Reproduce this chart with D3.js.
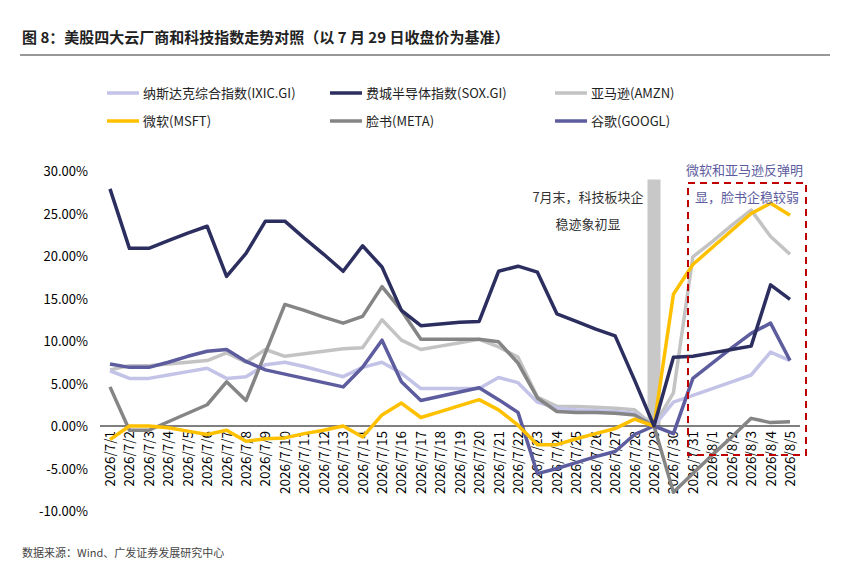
<!DOCTYPE html>
<head>
    <meta charset="utf-8">
    <title>美股四大云厂商和科技指数走势对照</title>
    <style>
        body { margin: 0; background: #fff; }
        text { font-family: "Noto Sans CJK SC", "Liberation Sans", sans-serif; }
    </style>
    <script src="https://d3js.org/d3.v7.min.js"></script>
</head>
<body>
    <script>
        var dates = ["2026/7/1","2026/7/2","2026/7/3","2026/7/4","2026/7/5","2026/7/6","2026/7/7","2026/7/8","2026/7/9","2026/7/10",
            "2026/7/11","2026/7/12","2026/7/13","2026/7/14","2026/7/15","2026/7/16","2026/7/17","2026/7/18","2026/7/19","2026/7/20",
            "2026/7/21","2026/7/22","2026/7/23","2026/7/24","2026/7/25","2026/7/26","2026/7/27","2026/7/28","2026/7/29","2026/7/30",
            "2026/7/31","2026/8/1","2026/8/2","2026/8/3","2026/8/4","2026/8/5"];

        var ixic = [6.5,5.6,5.6,6.0,6.4,6.8,5.6,5.8,7.2,7.5,7.0,6.4,5.8,6.9,7.5,6.2,4.4,4.4,4.4,4.4,5.7,5.1,2.8,2.1,1.9,1.8,1.7,1.5,0,2.8,3.6,4.4,5.2,6.0,8.7,7.7];
        var sox = [27.9,20.9,20.9,21.8,22.7,23.5,17.6,20.3,24.1,24.1,22.1,20.2,18.2,21.2,18.7,13.6,11.8,12.0,12.2,12.3,18.2,18.8,18.1,13.2,12.3,11.4,10.6,5.4,0,8.1,8.2,8.6,9.0,9.4,16.6,14.9];
        var amzn = [6.6,7.1,7.1,7.3,7.5,7.7,8.6,7.5,9.0,8.2,8.5,8.8,9.1,9.2,12.5,10.1,9.0,9.4,9.8,10.2,9.3,8.1,3.4,2.3,2.3,2.2,2.1,1.9,0,3.9,19.9,21.7,23.6,25.4,22.3,20.2];
        var msft = [-1.6,0,0,-0.2,-0.6,-1.0,-0.5,-1.8,-1.5,-1.4,-0.9,-0.5,0,-1.3,1.3,2.7,1.0,1.7,2.4,3.1,1.9,0.1,-2.2,-2.2,-1.5,-0.9,-0.3,0.8,0,15.5,19.0,21.0,23.0,25.0,26.2,24.8];
        var meta = [4.6,-0.5,-0.5,0.5,1.5,2.5,5.2,3.0,8.6,14.3,13.6,12.8,12.1,12.9,16.4,13.6,10.2,10.2,10.2,10.2,9.9,7.4,3.3,1.7,1.6,1.6,1.5,1.3,0,-7.8,-5.6,-3.4,-1.3,0.9,0.4,0.5];
        var googl = [7.3,6.9,6.9,7.5,8.2,8.8,9.0,7.6,6.6,6.1,5.6,5.1,4.6,6.9,10.1,5.2,3.0,3.5,4.0,4.5,3.1,1.6,-5.6,-5.0,-4.3,-3.6,-3.0,-1.0,0,-0.9,5.6,7.4,9.2,10.9,12.1,7.7];

        var series = [
            { name: "纳斯达克综合指数(IXIC.GI)", values: ixic, color: "#c3c3e8" },
            { name: "费城半导体指数(SOX.GI)", values: sox, color: "#2c2e5f" },
            { name: "亚马逊(AMZN)", values: amzn, color: "#c3c3c3" },
            { name: "微软(MSFT)", values: msft, color: "#ffc000" },
            { name: "脸书(META)", values: meta, color: "#858585" },
            { name: "谷歌(GOOGL)", values: googl, color: "#5c5c9e" }
        ];
        var yTicks = [-10, -5, 0, 5, 10, 15, 20, 25, 30];

        var width = 849, height = 574;
        var svg = d3.select("body").append("svg")
            .attr("width", width).attr("height", height);

        // title
        svg.append("text").attr("x", 22).attr("y", 43)
            .attr("font-size", 15).attr("font-weight", "bold").attr("fill", "#222")
            .text("图 8：美股四大云厂商和科技指数走势对照（以 7 月 29 日收盘价为基准）");
        svg.append("line").attr("x1", 20).attr("x2", 830).attr("y1", 55).attr("y2", 55)
            .attr("stroke", "#333").attr("stroke-width", 1);

        var x = d3.scalePoint().domain(dates).range([110, 790]);
        var y = d3.scaleLinear().domain([-10, 30]).range([511, 171]);

        // shaded bar at 7/29
        svg.append("rect")
            .attr("x", x("2026/7/29") - 6.5).attr("width", 13)
            .attr("y", y(29)).attr("height", y(0) - y(29))
            .attr("fill", "#c8c8c8");

        // y axis labels
        svg.append("g").selectAll("text").data(yTicks).enter().append("text")
            .attr("x", 88).attr("y", d => y(d) + 5)
            .attr("text-anchor", "end").attr("font-size", 13)
            .attr("font-family", "Liberation Sans, sans-serif").attr("fill", "#000")
            .text(d => d.toFixed(2) + "%");

        // zero line
        svg.append("line").attr("x1", 100).attr("x2", 800)
            .attr("y1", y(0)).attr("y2", y(0)).attr("stroke", "#000").attr("stroke-width", 1);

        // x labels
        svg.append("g").selectAll("text").data(dates).enter().append("text")
            .attr("transform", d => "translate(" + (x(d) + 5) + "," + (y(0) + 5) + ") rotate(-90)")
            .attr("text-anchor", "end").attr("font-size", 13.5)
            .attr("font-family", "Liberation Sans, sans-serif").attr("fill", "#000")
            .text(d => d);

        // lines
        var line = d3.line().x((d, i) => x(dates[i])).y(d => y(d));
        var order = [2, 0, 4, 5, 3, 1];
        order.forEach(function (k) {
            var s = series[k];
            svg.append("path").datum(s.values)
                .attr("d", line).attr("fill", "none")
                .attr("stroke", s.color).attr("stroke-width", 3.5)
                .attr("stroke-linejoin", "round");
        });

        // red dashed box
        svg.append("rect").attr("x", 688).attr("y", 183).attr("width", 118).attr("height", 272)
            .attr("fill", "none").attr("stroke", "#c00000").attr("stroke-width", 2)
            .attr("stroke-dasharray", "7,5");

        // annotations
        svg.append("text").attr("x", 588).attr("y", 202).attr("text-anchor", "middle")
            .attr("font-size", 13).attr("fill", "#333").text("7月末，科技板块企");
        svg.append("text").attr("x", 588).attr("y", 229).attr("text-anchor", "middle")
            .attr("font-size", 13).attr("fill", "#333").text("稳迹象初显");
        svg.append("text").attr("x", 686).attr("y", 175)
            .attr("font-size", 13).attr("fill", "#5c5c9e").text("微软和亚马逊反弹明");
        svg.append("text").attr("x", 695).attr("y", 202)
            .attr("font-size", 13).attr("fill", "#5c5c9e").text("显，脸书企稳较弱");

        // legend
        var legend = svg.append("g");
        series.forEach(function (s, i) {
            var lx = [107, 330, 555][i % 3], ly = i < 3 ? 93 : 121;
            legend.append("line").attr("x1", lx).attr("x2", lx + 32)
                .attr("y1", ly).attr("y2", ly)
                .attr("stroke", s.color).attr("stroke-width", 3.5);
            legend.append("text").attr("x", lx + 36).attr("y", ly + 5)
                .attr("font-size", 13).attr("fill", "#222").text(s.name);
        });

        // source
        svg.append("text").attr("x", 22).attr("y", 557)
            .attr("font-size", 11).attr("fill", "#444")
            .text("数据来源：Wind、广发证券发展研究中心");
    </script>
</body>
